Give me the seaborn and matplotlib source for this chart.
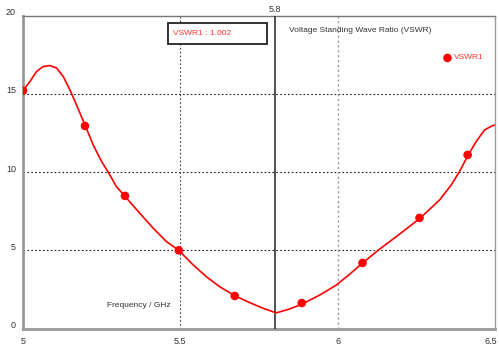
import numpy as np
import pandas as pd
import matplotlib
matplotlib.use("Agg")
import matplotlib.pyplot as plt
import matplotlib.transforms as mtransforms
from matplotlib.patches import Rectangle
import seaborn as sns

# Curve samples (GHz, VSWR)
curve_freq = [5.000, 5.022, 5.043, 5.064, 5.086, 5.107, 5.128, 5.149, 5.170,
              5.198, 5.223, 5.250, 5.271, 5.297, 5.325, 5.371, 5.414, 5.456,
              5.494, 5.541, 5.583, 5.625, 5.675, 5.721, 5.763, 5.805, 5.848,
              5.888, 5.943, 5.996, 6.038, 6.078, 6.133, 6.186, 6.262, 6.324,
              6.361, 6.387, 6.414, 6.440, 6.467, 6.493, 6.500]
curve_vswr = [15.20, 15.79, 16.43, 16.75, 16.81, 16.65, 16.11, 15.26, 14.30,
              12.96, 11.74, 10.67, 9.99, 9.07, 8.43, 7.37, 6.41, 5.55,
              5.02, 4.06, 3.31, 2.67, 2.08, 1.65, 1.29, 1.00, 1.25,
              1.57, 2.14, 2.78, 3.47, 4.17, 5.07, 5.87, 7.05, 8.22,
              9.18, 10.03, 11.06, 11.95, 12.70, 12.98, 13.00]

# Marker points
marker_freq = [5.00, 5.197, 5.324, 5.495, 5.673, 5.886, 6.079, 6.26, 6.413]
marker_vswr = [15.2, 12.95, 8.48, 5.0, 2.08, 1.63, 4.19, 7.07, 11.1]

x_ticks = [5, 5.5, 6, 6.5]
x_tick_labels = ["5", "5.5", "6", "6.5"]
y_ticks = [0, 5, 10, 15, 20]
y_tick_labels = ["0", "5", "10", "15", "20"]

marker_x = 5.8
marker_label = "5.8"
readout = "VSWR1 : 1.002"
title = "Voltage Standing Wave Ratio (VSWR)"
series_name = "VSWR1"
xlabel = "Frequency / GHz"

sns.set_theme(style="white")
plt.rcParams['font.family'] = ['Liberation Sans', 'DejaVu Sans']

FS = 6.0
fig = plt.figure(figsize=(4.99, 3.47), dpi=100)
ax = fig.add_axes([23/499, 1-328.5/347, (495-23)/499, (328.5-15.7)/347])

curve_df = pd.DataFrame({"freq": curve_freq, "vswr": curve_vswr})
mark_df = pd.DataFrame({"freq": marker_freq, "vswr": marker_vswr})

sns.lineplot(data=curve_df, x="freq", y="vswr", ax=ax, color="#ff0000",
             linewidth=1.2, sort=False, zorder=4)
sns.scatterplot(data=mark_df, x="freq", y="vswr", ax=ax, color="#ff0000",
                s=38, edgecolor="none", zorder=5)

ax.set_xlim(5, 6.5)
ax.set_ylim(0, 20)

# grid lines
for yv in [5, 10, 15]:
    ax.axhline(yv, color="#222222", linestyle=(0, (1.5, 2)), linewidth=0.8, zorder=1)
ax.axvline(5.5, color="#444444", linestyle=(0, (1.5, 2)), linewidth=0.8, zorder=1)
ax.axvline(6.0, color="#999999", linestyle=(0, (1.5, 2)), linewidth=1.0, zorder=1)

# marker line
ax.axvline(marker_x, color="#333333", linewidth=1.2, zorder=3)
ax.text(marker_x, 1.006, marker_label, transform=ax.get_xaxis_transform(),
        ha="center", va="bottom", fontsize=FS + 0.5, color="#333333")

ax.set_xticks(x_ticks)
ax.set_xticklabels(x_tick_labels)
ax.set_yticks(y_ticks)
ax.set_yticklabels(y_tick_labels)
ax.tick_params(axis="both", length=0, labelsize=FS + 0.5, colors="#333333")
ax.tick_params(axis="x", pad=6)
ax.tick_params(axis="y", pad=5)
offset = mtransforms.ScaledTranslation(0, 4/100, fig.dpi_scale_trans)
for lab in ax.get_yticklabels():
    lab.set_transform(lab.get_transform() + offset)
last = ax.get_xticklabels()[-1]
last.set_transform(last.get_transform() +
                   mtransforms.ScaledTranslation(-4/100, 0, fig.dpi_scale_trans))
ax.set_xlabel("")
ax.set_ylabel("")

for side in ["left", "bottom"]:
    ax.spines[side].set_color("#999999")
    ax.spines[side].set_linewidth(2)
ax.spines["top"].set_color("#777777")
ax.spines["top"].set_linewidth(1)
ax.spines["right"].set_color("#999999")
ax.spines["right"].set_linewidth(1)

# readout box
ax.add_patch(Rectangle((5.460, 18.2), 0.315, 1.35, facecolor="white",
                       edgecolor="#222222", linewidth=1.3, zorder=6))
ax.text(5.476, 18.87, readout, fontsize=FS, color="#ff3333", ha="left",
        va="center", zorder=7)
ax.text(5.844, 19.03, title, fontsize=FS, color="#333333", ha="left", va="center")

# legend
ax.scatter([6.349], [17.3], color="#ff0000", s=38, edgecolor="none", zorder=6)
ax.text(6.371, 17.3, series_name, fontsize=FS, color="#ff3333", ha="left", va="center")

ax.text(5.267, 1.5, xlabel, fontsize=FS, color="#333333", ha="left", va="center")

fig.savefig("out.png", dpi=100)
